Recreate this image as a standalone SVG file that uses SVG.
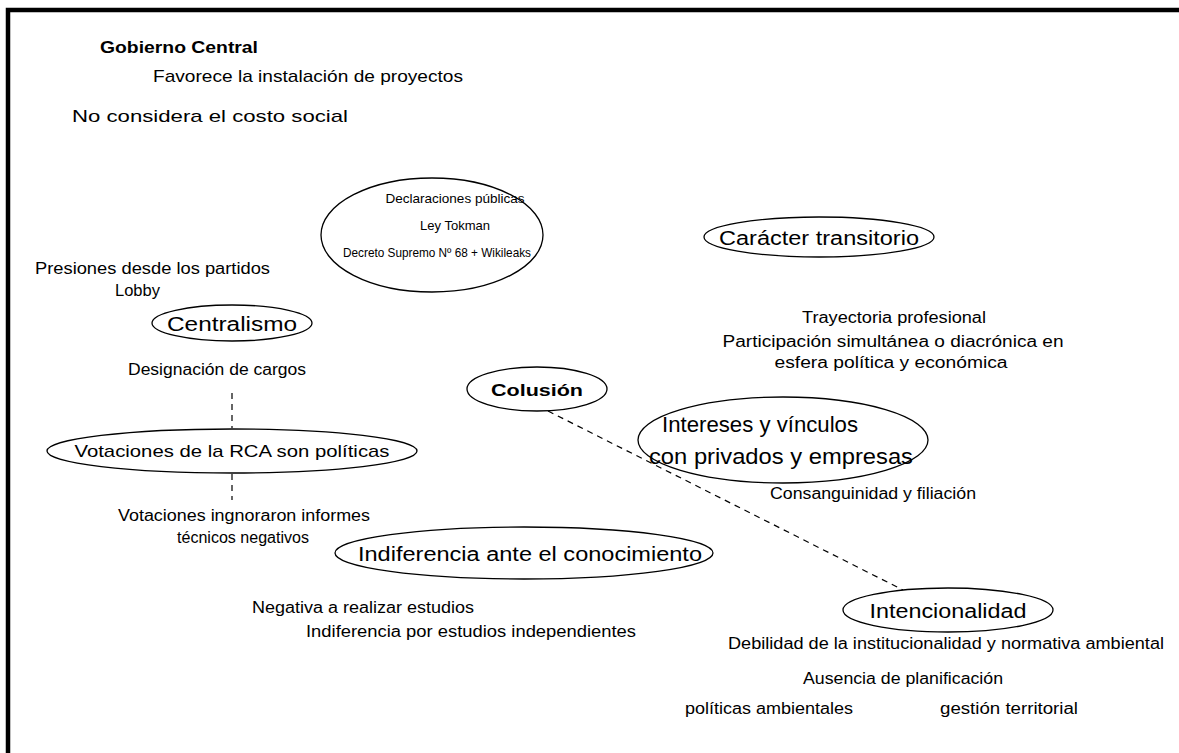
<svg xmlns="http://www.w3.org/2000/svg" width="1179" height="753" viewBox="0 0 1179 753">
<style>
text{font-family:"Liberation Sans","DejaVu Sans",sans-serif;fill:#000;}
.xs{font-size:13px;}
.s{font-size:16px;}
.m{font-size:17px;}
.l{font-size:20px;}
.xl{font-size:22px;}
.b{font-weight:bold;}
.c{text-anchor:middle;}
ellipse{fill:#fff;stroke:#000;stroke-width:1.3;}
.d{stroke:#000;stroke-width:1.2;stroke-dasharray:6,5;fill:none;}
</style>
<rect x="0" y="0" width="1179" height="753" fill="#fff"/>
<path d="M8 753 V10 H1179" fill="none" stroke="#000" stroke-width="4.5"/>
<g id="header">
<text class="m" x="100" y="53" textLength="158" lengthAdjust="spacingAndGlyphs" style="font-weight:600">Gobierno Central</text>
<text class="m" x="153" y="82" textLength="310" lengthAdjust="spacingAndGlyphs">Favorece la instalación de proyectos</text>
<text class="m" x="72" y="122" textLength="276" lengthAdjust="spacingAndGlyphs">No considera el costo social</text>
</g>
<g id="connectors">
<line class="d" x1="232" y1="393" x2="232" y2="428"/>
<line class="d" x1="232" y1="474" x2="232" y2="500"/>
<line class="d" x1="548" y1="411" x2="903" y2="590"/>
</g>
<g id="declaraciones">
<ellipse cx="432" cy="235" rx="111" ry="57"/>
<text class="xs c" x="455" y="203" textLength="139" lengthAdjust="spacingAndGlyphs">Declaraciones públicas</text>
<text class="xs c" x="455" y="230" textLength="70" lengthAdjust="spacingAndGlyphs">Ley Tokman</text>
<text class="xs c" x="437" y="257" textLength="188" lengthAdjust="spacingAndGlyphs">Decreto Supremo Nº 68 + Wikileaks</text>
</g>
<g id="caracter">
<ellipse cx="819" cy="237" rx="115" ry="20"/>
<text class="l c" x="819" y="245" textLength="200" lengthAdjust="spacingAndGlyphs">Carácter transitorio</text>
</g>
<g id="centralismo">
<text class="s" x="35" y="274" textLength="235" lengthAdjust="spacingAndGlyphs">Presiones desde los partidos</text>
<text class="s" x="115" y="296" textLength="45" lengthAdjust="spacingAndGlyphs">Lobby</text>
<ellipse cx="232" cy="323" rx="80" ry="18"/>
<text class="l c" x="232" y="331" textLength="130" lengthAdjust="spacingAndGlyphs">Centralismo</text>
<text class="s" x="128" y="375" textLength="178" lengthAdjust="spacingAndGlyphs">Designación de cargos</text>
</g>
<g id="votaciones">
<ellipse cx="232" cy="451" rx="185" ry="22"/>
<text class="m c" x="232" y="457" textLength="315" lengthAdjust="spacingAndGlyphs">Votaciones de la RCA son políticas</text>
<text class="s" x="118" y="521" textLength="252" lengthAdjust="spacingAndGlyphs">Votaciones ingnoraron informes</text>
<text class="s" x="177" y="543" textLength="132" lengthAdjust="spacingAndGlyphs">técnicos negativos</text>
</g>
<g id="colusion">
<ellipse cx="537" cy="389" rx="70" ry="22"/>
<text class="m c b" x="537" y="396" textLength="92" lengthAdjust="spacingAndGlyphs">Colusión</text>
</g>
<g id="intereses">
<text class="s c" x="894" y="323" textLength="184" lengthAdjust="spacingAndGlyphs">Trayectoria profesional</text>
<text class="s c" x="893" y="347" textLength="341" lengthAdjust="spacingAndGlyphs">Participación simultánea o diacrónica en</text>
<text class="s c" x="891" y="368" textLength="233" lengthAdjust="spacingAndGlyphs">esfera política y económica</text>
<ellipse cx="783" cy="440" rx="145" ry="43"/>
<text class="xl c" x="760" y="432" textLength="196" lengthAdjust="spacingAndGlyphs">Intereses y vínculos</text>
<text class="xl c" x="781" y="464" textLength="264" lengthAdjust="spacingAndGlyphs">con privados y empresas</text>
<text class="s" x="770" y="499" textLength="206" lengthAdjust="spacingAndGlyphs">Consanguinidad y filiación</text>
</g>
<g id="indiferencia">
<ellipse cx="524" cy="553" rx="189" ry="26"/>
<text class="l c" x="530" y="561" textLength="344" lengthAdjust="spacingAndGlyphs">Indiferencia ante el conocimiento</text>
<text class="s" x="252" y="613" textLength="222" lengthAdjust="spacingAndGlyphs">Negativa a realizar estudios</text>
<text class="s" x="306" y="637" textLength="330" lengthAdjust="spacingAndGlyphs">Indiferencia por estudios independientes</text>
</g>
<g id="intencionalidad">
<ellipse cx="948" cy="610" rx="105" ry="22"/>
<text class="l c" x="948" y="618" textLength="157" lengthAdjust="spacingAndGlyphs">Intencionalidad</text>
<text class="s" x="728" y="649" textLength="436" lengthAdjust="spacingAndGlyphs">Debilidad de la institucionalidad y normativa ambiental</text>
<text class="s" x="803" y="684" textLength="200" lengthAdjust="spacingAndGlyphs">Ausencia de planificación</text>
<text class="s" x="685" y="714" textLength="168" lengthAdjust="spacingAndGlyphs">políticas ambientales</text>
<text class="s" x="940" y="714" textLength="138" lengthAdjust="spacingAndGlyphs">gestión territorial</text>
</g>
</svg>
